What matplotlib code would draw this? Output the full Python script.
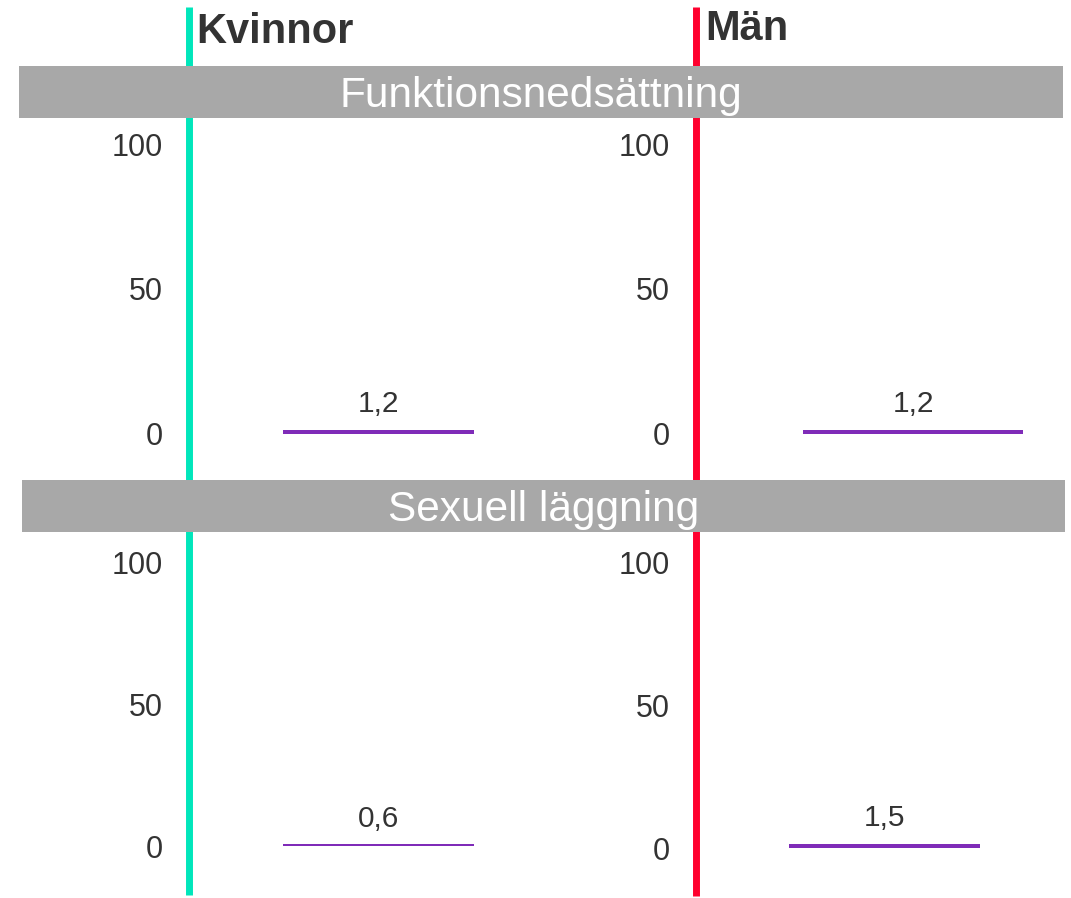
import matplotlib.pyplot as plt
from matplotlib.lines import Line2D
from matplotlib.patches import Rectangle

plt.rcParams['font.family'] = ['Liberation Sans', 'DejaVu Sans']

# data
genders = ['Kvinnor', 'Män']
groups = ['Funktionsnedsättning', 'Sexuell läggning']
values = {
    ('Funktionsnedsättning', 'Kvinnor'): 1.2,
    ('Funktionsnedsättning', 'Män'): 1.2,
    ('Sexuell läggning', 'Kvinnor'): 0.6,
    ('Sexuell läggning', 'Män'): 1.5,
}
yticks = [0, 50, 100]

gender_colors = {'Kvinnor': '#00e6bb', 'Män': '#ff002e'}
bar_color = '#7f2bb8'
band_color = '#a8a8a8'
text_color = '#333333'

W, H = 1071, 898
fig = plt.figure(figsize=(W / 100, H / 100), dpi=100)


def fx(x):
    return x / W


def fy(y):
    return 1 - y / H


# panel layout in pixels: left edge, y of 0, y of 100, bar width in px
layout = {
    ('Funktionsnedsättning', 'Kvinnor'): (189, 433.5, 144, 191),
    ('Funktionsnedsättning', 'Män'): (695.5, 433.5, 144, 220),
    ('Sexuell läggning', 'Kvinnor'): (189, 846, 563, 191),
    ('Sexuell läggning', 'Män'): (695.5, 848, 563, 191),
}

for key, (left, y0, y100, bw) in layout.items():
    ax = fig.add_axes([fx(left), fy(y0), 1.99 * bw / W, (y0 - y100) / H])
    ax.patch.set_alpha(0)
    val = values[key]
    ax.bar(0, val, width=1.0, color=bar_color)
    ax.annotate(f'{val:.1f}'.replace('.', ','), xy=(0, val), xytext=(0, 12.8),
                textcoords='offset points', ha='center', va='baseline',
                fontsize=21.5, color=text_color)
    ax.set_xlim(-0.99, 1.0)
    ax.set_ylim(0, 100)
    ax.set_yticks(yticks)
    ax.set_yticklabels([str(t) for t in yticks])
    ax.set_xticks([])
    ax.tick_params(axis='y', length=0, pad=18.5, labelsize=22, labelcolor=text_color)
    for s in ax.spines.values():
        s.set_visible(False)

# vertical gender lines (behind the bands)
fig.add_artist(Line2D([fx(189), fx(189)], [fy(7), fy(895)], transform=fig.transFigure,
                      color=gender_colors['Kvinnor'], lw=5, zorder=1, solid_capstyle='butt'))
fig.add_artist(Line2D([fx(695.5), fx(695.5)], [fy(7), fy(896)], transform=fig.transFigure,
                      color=gender_colors['Män'], lw=5, zorder=1, solid_capstyle='butt'))

# gender headers
fig.text(fx(196), fy(43), 'Kvinnor', fontsize=30, fontweight='bold', color=text_color,
         ha='left', va='baseline')
fig.text(fx(705), fy(40), 'Män', fontsize=30, fontweight='bold', color=text_color,
         ha='left', va='baseline')

# group bands
bands = [(19, 1063, 66, 118), (22, 1065, 480, 532)]
for name, (x0, x1, top, bot) in zip(groups, bands):
    fig.add_artist(Rectangle((fx(x0), fy(bot)), (x1 - x0) / W, (bot - top) / H,
                             transform=fig.transFigure, facecolor=band_color,
                             edgecolor='none', zorder=2))
    fig.text(fx((x0 + x1) / 2), fy(bot - 10.5), name, fontsize=30.5, color='white',
             ha='center', va='baseline', zorder=3)

fig.savefig('out.png', dpi=100)
